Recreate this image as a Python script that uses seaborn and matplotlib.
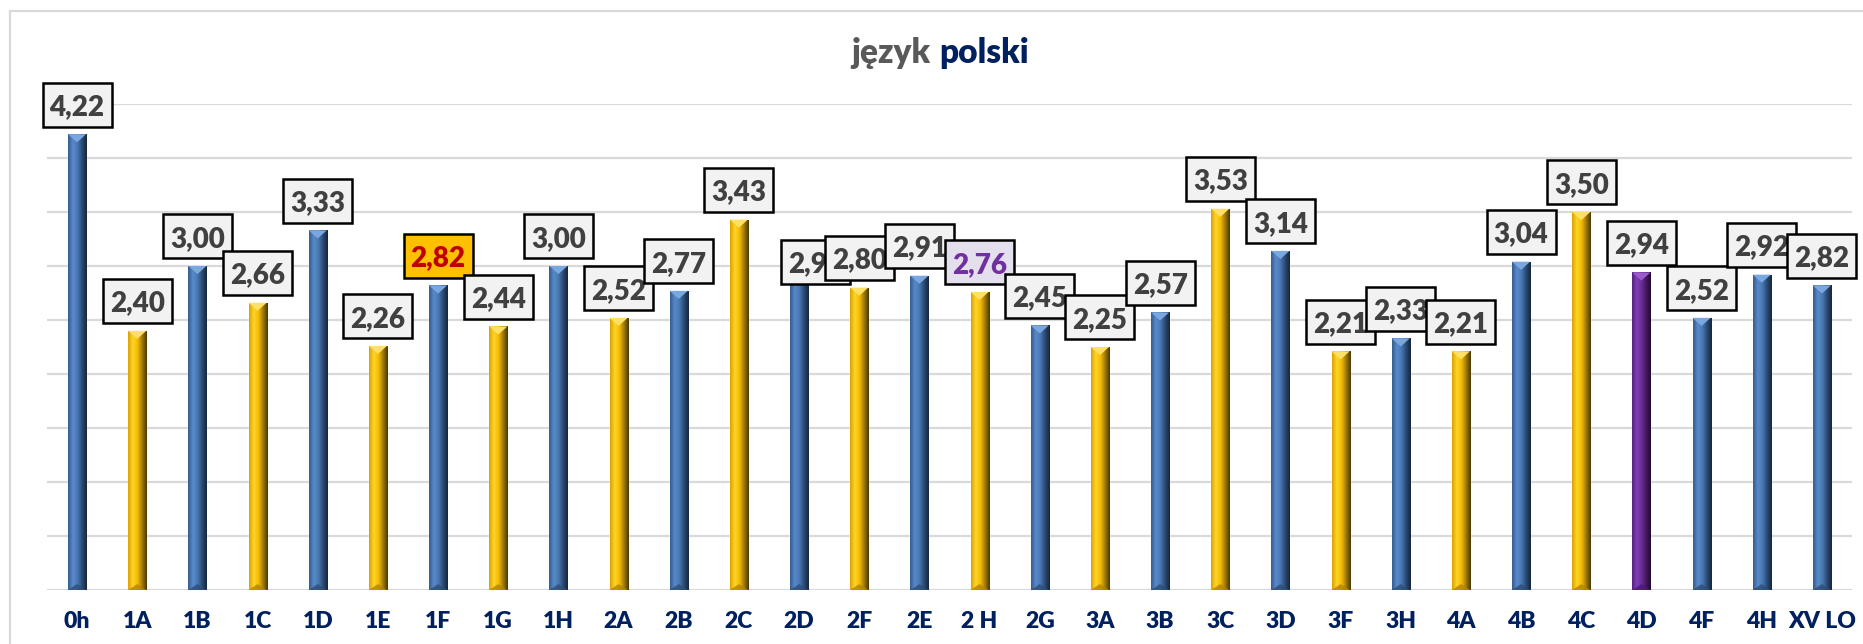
import matplotlib
matplotlib.use("Agg")
import matplotlib.pyplot as plt
from matplotlib.colors import LinearSegmentedColormap
from matplotlib.patches import Rectangle, Polygon
import numpy as np
import seaborn as sns

# dane z wykresu
klasy = ["0h", "1A", "1B", "1C", "1D", "1E", "1F", "1G", "1H", "2A", "2B", "2C", "2D", "2F", "2E",
         "2 H", "2G", "3A", "3B", "3C", "3D", "3F", "3H", "4A", "4B", "4C", "4D", "4F", "4H", "XV LO"]
srednie = [4.22, 2.40, 3.00, 2.66, 3.33, 2.26, 2.82, 2.44, 3.00, 2.52, 2.77, 3.43, 2.92, 2.80, 2.91,
           2.76, 2.45, 2.25, 2.57, 3.53, 3.14, 2.21, 2.33, 2.21, 3.04, 3.50, 2.94, 2.52, 2.92, 2.82]
grupy = ["b", "g", "b", "g", "b", "g", "b", "g", "b", "g", "b", "g", "b", "g", "b",
         "g", "b", "g", "b", "g", "b", "g", "b", "g", "b", "g", "p", "b", "b", "b"]

kolory = {"b": "#4A76AE", "g": "#F2B800", "p": "#6A2C97"}
gradienty = {
    "b": ["#345C8E", "#5A8ACB", "#4877B3", "#2A4A73", "#16263B"],
    "g": ["#D9A300", "#FFD42A", "#F5BD00", "#A07A00", "#4A3800"],
    "p": ["#55207E", "#8040B5", "#6A2C97", "#44195F", "#220A32"],
}
trojkat_gora = {"b": "#7AA7E0", "g": "#FFE066", "p": "#9A5CCB"}
trojkat_dol = {"b": "#2E4D75", "g": "#B08600", "p": "#4A1C6A"}

sns.set_theme(style="white")
plt.rcParams["font.family"] = ["Lato", "DejaVu Sans"]

fig = plt.figure(figsize=(18.63, 6.44), dpi=100)
ax = fig.add_axes([47 / 1863, 1 - 590 / 644, 1805 / 1863, 486 / 644])

paleta = {k: kolory[g] for k, g in zip(klasy, grupy)}
sns.barplot(x=klasy, y=srednie, hue=klasy, palette=paleta, legend=False,
            width=0.3, saturation=1, ax=ax, zorder=3)

ax.set_ylim(0, 4.5)
ax.set_xlim(-0.5, len(klasy) - 0.5)
ax.set_yticks(np.arange(0, 4.51, 0.5))
ax.set_yticklabels([])
ax.grid(axis="y", color="#D9D9D9", linewidth=1.6, zorder=0)
ax.grid(axis="x", visible=False)
for s in ax.spines.values():
    s.set_visible(False)
ax.tick_params(axis="x", length=0, pad=15)
ax.tick_params(axis="y", length=0)
for lab in ax.get_xticklabels():
    lab.set_fontweight("heavy")
    lab.set_fontsize(16.5)
    lab.set_color("#002060")
ax.set_xlabel("")

# cieniowanie słupków (efekt 3D)
for p in list(ax.patches):
    x0, w, h = p.get_x(), p.get_width(), p.get_height()
    i = int(round(x0 + w / 2))
    g = grupy[i]
    cmap = LinearSegmentedColormap.from_list("c" + g, gradienty[g])
    grad = np.linspace(0, 1, 64).reshape(1, -1)
    im = ax.imshow(grad, cmap=cmap, aspect="auto", extent=(x0, x0 + w, 0, h),
                   zorder=4, interpolation="bicubic")
    im.set_clip_path(p)
    xc = x0 + w / 2
    ax.add_patch(Polygon([(x0, h), (x0 + w, h), (xc, h - 0.075)], closed=True,
                         facecolor=trojkat_gora[g], edgecolor="none", zorder=5))
    ax.add_patch(Polygon([(x0, 0), (x0 + w, 0), (xc, 0.055)], closed=True,
                         facecolor=trojkat_dol[g], edgecolor="none", zorder=5, alpha=0.8))
ax.set_xlim(-0.5, len(klasy) - 0.5)
ax.set_ylim(0, 4.5)

# etykiety danych
box_w = 69 / (1805 / 30)
box_h = 44 / 108
for i, (k, v) in enumerate(zip(klasy, srednie)):
    cx, cy = i, v + 0.275
    fc, tc = "#F2F2F2", "#404040"
    if k == "1F":
        fc, tc = "#FFC000", "#C00000"
    if k == "2 H":
        fc, tc = "#E4DFEC", "#7030A0"
    if k == "2D":
        cx, cy = i + 0.28, 3.04
    z = 10 + i * 2
    ax.add_patch(Rectangle((cx - box_w / 2, cy - box_h / 2), box_w, box_h, facecolor=fc,
                           edgecolor="black", linewidth=1.8, zorder=z, clip_on=False))
    ax.text(cx, cy, f"{v:.2f}".replace(".", ","), ha="center", va="center_baseline",
            fontsize=20, fontweight="heavy", color=tc, zorder=z + 1, clip_on=False)

# tytuł
fig.text(0.4995, 0.918, "język", ha="right", va="center", fontsize=24,
         fontweight="heavy", color="#595959")
fig.text(0.5040, 0.918, "polski", ha="left", va="center", fontsize=24,
         fontweight="heavy", color="#002060")

# ramka wykresu
fig.add_artist(Rectangle((10 / 1863, -0.1), 1.2, 1 - 11 / 644 + 0.1, transform=fig.transFigure,
                         fill=False, edgecolor="#D9D9D9", linewidth=1.6))

fig.savefig("out.png", dpi=100)
